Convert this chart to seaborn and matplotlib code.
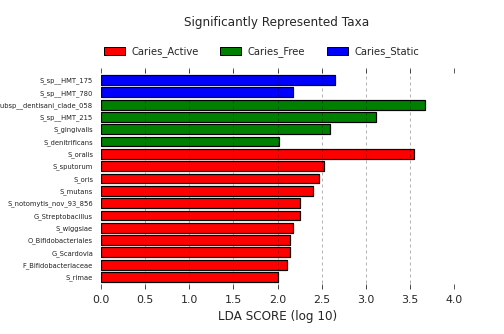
import matplotlib
matplotlib.use("Agg")
import matplotlib.pyplot as plt
import seaborn as sns
import pandas as pd
from matplotlib.patches import Patch

# LEfSe results: taxa, LDA scores (log10) and the class each taxon is enriched in
taxa = [
    "S_sp__HMT_175",
    "S_sp__HMT_780",
    "S_oralis_subsp__dentisani_clade_058",
    "S_sp__HMT_215",
    "S_gingivalis",
    "S_denitrificans",
    "S_oralis",
    "S_sputorum",
    "S_oris",
    "S_mutans",
    "S_notomytis_nov_93_856",
    "G_Streptobacillus",
    "S_wiggsiae",
    "O_Bifidobacteriales",
    "G_Scardovia",
    "F_Bifidobacteriaceae",
    "S_rimae",
]
lda_scores = [2.65, 2.17, 3.67, 3.12, 2.59, 2.02, 3.55, 2.53, 2.47,
              2.40, 2.26, 2.25, 2.17, 2.14, 2.14, 2.11, 2.01]
groups = ["Caries_Static", "Caries_Static",
          "Caries_Free", "Caries_Free", "Caries_Free", "Caries_Free",
          "Caries_Active", "Caries_Active", "Caries_Active", "Caries_Active",
          "Caries_Active", "Caries_Active", "Caries_Active", "Caries_Active",
          "Caries_Active", "Caries_Active", "Caries_Active"]

class_names = ["Caries_Active", "Caries_Free", "Caries_Static"]
class_colors = ["#ff0000", "#008000", "#0000ff"]
x_ticks = [0.0, 0.5, 1.0, 1.5, 2.0, 2.5, 3.0, 3.5, 4.0]

df = pd.DataFrame({"taxon": taxa, "lda": lda_scores, "group": groups})
palette = dict(zip(class_names, class_colors))

sns.set_style("white")
plt.rcParams["font.family"] = ["DejaVu Sans"]

fig = plt.figure(figsize=(504 / 72, 334 / 72), dpi=72)
ax = fig.add_axes([101 / 504, 1 - 289 / 334, 353 / 504, 221 / 334])

sns.barplot(data=df, x="lda", y="taxon", hue="group", palette=palette,
            order=taxa, hue_order=class_names, dodge=False, width=0.8,
            saturation=1, edgecolor="black", linewidth=1.2, legend=False,
            ax=ax, orient="h", zorder=2)

ax.set_xlim(0, 4.0)
ax.set_ylim(16 + 0.97, -0.97)
ax.set_xticks(x_ticks)
ax.set_xticklabels([f"{t:.1f}" for t in x_ticks], fontsize=11)

# dashed guides at the inner ticks, drawn over the bars
for t in x_ticks[1:-1]:
    ax.axvline(t, color="black", alpha=0.3, linestyle=(0, (3, 3)),
               linewidth=1.0, zorder=3)

for side in ["top", "bottom", "left", "right"]:
    ax.spines[side].set_visible(False)

ax.tick_params(axis="x", which="both", direction="in", length=5, width=0.8,
               color="#333333", top=True, bottom=True, pad=6)
ax.tick_params(axis="y", length=0, pad=8, labelsize=6.8, labelcolor="#222222")
ax.set_ylabel("")
ax.set_xlabel("LDA SCORE (log 10)", fontsize=12, labelpad=5)

fig.text(276.5 / 504, 1 - 22.5 / 334, "Significantly Represented Taxa",
         ha="center", va="center", fontsize=12)

handles = [Patch(facecolor=c, edgecolor="black", linewidth=1.0) for c in class_colors]
fig.legend(handles, class_names, loc="center", ncol=3, frameon=False,
           bbox_to_anchor=(261.5 / 504, 1 - 52 / 334), fontsize=10,
           handlelength=2.1, handleheight=0.8, handletextpad=0.7,
           columnspacing=2.1)

fig.savefig("out.png", dpi=72)
